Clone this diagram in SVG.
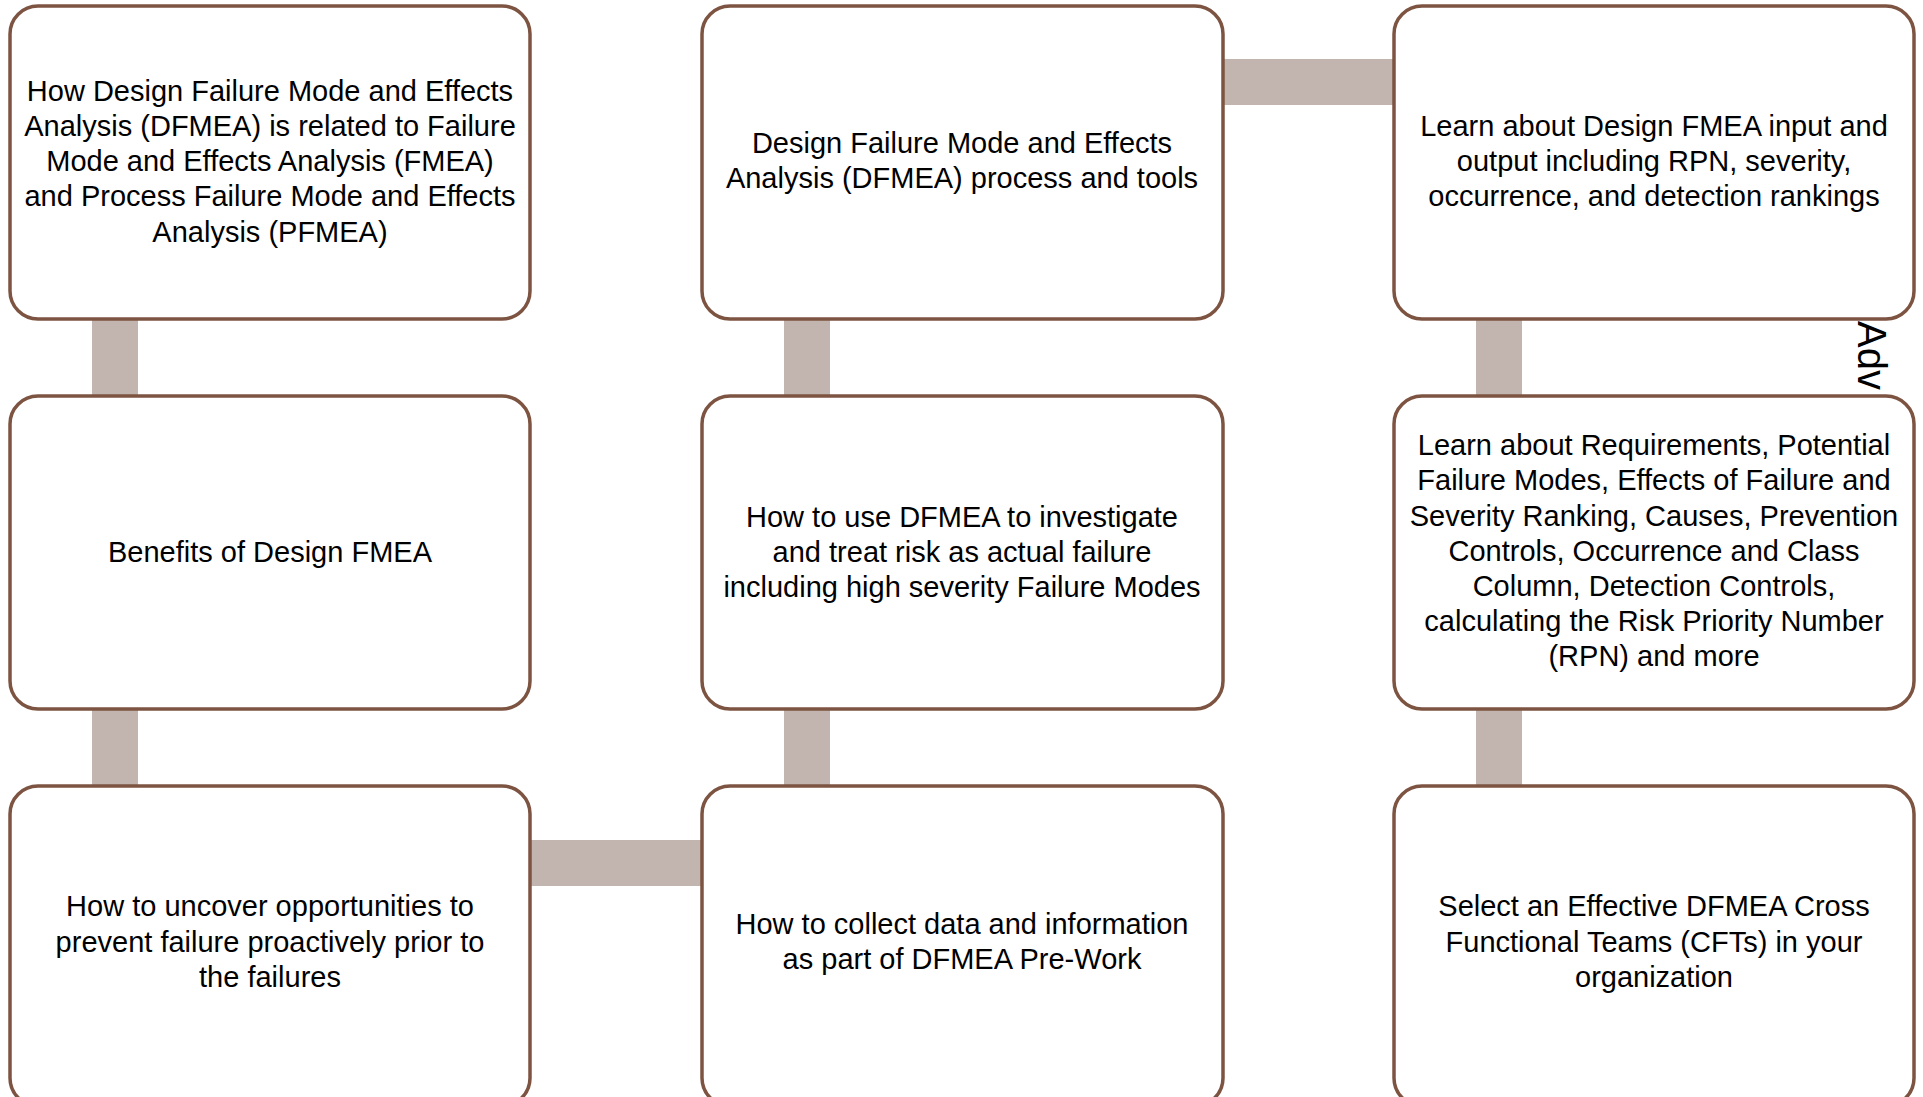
<svg xmlns="http://www.w3.org/2000/svg" width="1923" height="1097" viewBox="0 0 1923 1097">
<style>
.box{fill:#fff;stroke:#7D5441;stroke-width:3.5}
.conn{fill:#C2B4AF}
text{font-family:"Liberation Sans",Arial,sans-serif;font-size:29px;fill:#000;text-anchor:middle}
.adv{font-size:40px;text-anchor:start}
</style>
<rect width="1923" height="1097" fill="#fff"/>
<g id="connectors">
<rect class="conn" x="92" y="318" width="46" height="80"/>
<rect class="conn" x="92" y="708" width="46" height="80"/>
<rect class="conn" x="784" y="318" width="46" height="80"/>
<rect class="conn" x="784" y="708" width="46" height="80"/>
<rect class="conn" x="1476" y="318" width="46" height="80"/>
<rect class="conn" x="1476" y="708" width="46" height="80"/>
<rect class="conn" x="1221" y="59" width="175" height="46"/>
<rect class="conn" x="529" y="840" width="174" height="46"/>
</g>
<text class="adv" transform="translate(1858,321) rotate(90)">Adv</text>
<g id="n1">
<rect class="box" x="10" y="6" width="520" height="313" rx="28"/>
<text x="270"><tspan x="270" y="101">How Design Failure Mode and Effects</tspan><tspan x="270" y="136">Analysis (DFMEA) is related to Failure</tspan><tspan x="270" y="171">Mode and Effects Analysis (FMEA)</tspan><tspan x="270" y="206">and Process Failure Mode and Effects</tspan><tspan x="270" y="242">Analysis (PFMEA)</tspan></text>
</g>
<g id="n2">
<rect class="box" x="10" y="396" width="520" height="313" rx="28"/>
<text x="270" y="562">Benefits of Design FMEA</text>
</g>
<g id="n3">
<rect class="box" x="10" y="786" width="520" height="320" rx="28"/>
<text><tspan x="270" y="916">How to uncover opportunities to</tspan><tspan x="270" y="952">prevent failure proactively prior to</tspan><tspan x="270" y="987">the failures</tspan></text>
</g>
<g id="n4">
<rect class="box" x="702" y="786" width="521" height="320" rx="28"/>
<text><tspan x="962" y="934">How to collect data and information</tspan><tspan x="962" y="969">as part of DFMEA Pre-Work</tspan></text>
</g>
<g id="n5">
<rect class="box" x="702" y="396" width="521" height="313" rx="28"/>
<text><tspan x="962" y="527">How to use DFMEA to investigate</tspan><tspan x="962" y="562">and treat risk as actual failure</tspan><tspan x="962" y="597">including high severity Failure Modes</tspan></text>
</g>
<g id="n6">
<rect class="box" x="702" y="6" width="521" height="313" rx="28"/>
<text><tspan x="962" y="153">Design Failure Mode and Effects</tspan><tspan x="962" y="188">Analysis (DFMEA) process and tools</tspan></text>
</g>
<g id="n7">
<rect class="box" x="1394" y="6" width="520" height="313" rx="28"/>
<text><tspan x="1654" y="136">Learn about Design FMEA input and</tspan><tspan x="1654" y="171">output including RPN, severity,</tspan><tspan x="1654" y="206">occurrence, and detection rankings</tspan></text>
</g>
<g id="n8">
<rect class="box" x="1394" y="396" width="520" height="313" rx="28"/>
<text><tspan x="1654" y="455">Learn about Requirements, Potential</tspan><tspan x="1654" y="490">Failure Modes, Effects of Failure and</tspan><tspan x="1654" y="526">Severity Ranking, Causes, Prevention</tspan><tspan x="1654" y="561">Controls, Occurrence and Class</tspan><tspan x="1654" y="596">Column, Detection Controls,</tspan><tspan x="1654" y="631">calculating the Risk Priority Number</tspan><tspan x="1654" y="666">(RPN) and more</tspan></text>
</g>
<g id="n9">
<rect class="box" x="1394" y="786" width="520" height="320" rx="28"/>
<text><tspan x="1654" y="916">Select an Effective DFMEA Cross</tspan><tspan x="1654" y="952">Functional Teams (CFTs) in your</tspan><tspan x="1654" y="987">organization</tspan></text>
</g>
</svg>
